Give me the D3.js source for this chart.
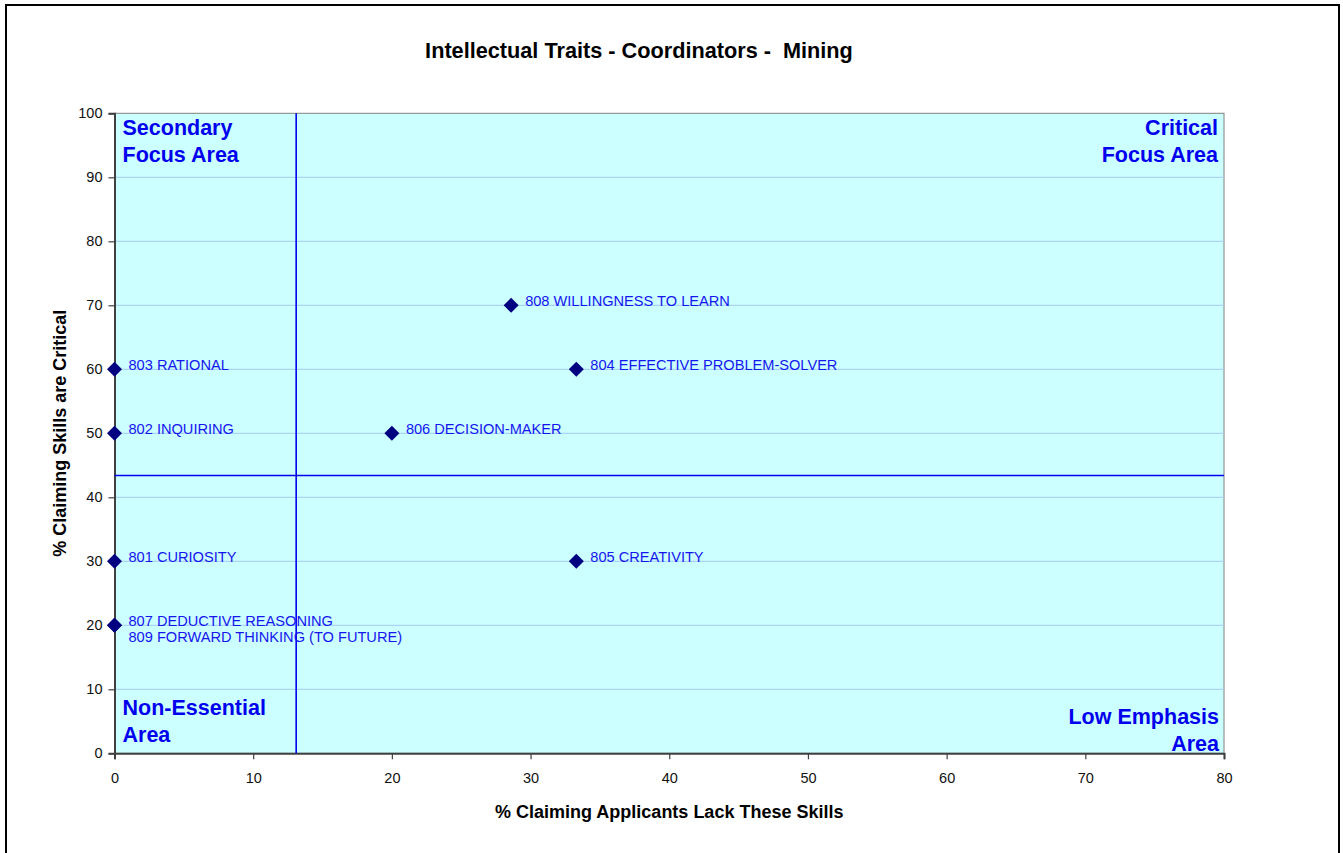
<!DOCTYPE html>
<html>
<head>
<meta charset="utf-8">
<script src="https://cdn.jsdelivr.net/npm/d3@7"></script>
<style>
  html, body { margin: 0; padding: 0; background: #fff; }
  svg { display: block; }
  text { font-family: Arial, "Liberation Sans", sans-serif; white-space: pre; }
</style>
</head>
<body>
<svg id="chart" width="1343" height="853"></svg>
<script>
// ---- data ----
const labels = ["801 CURIOSITY", "802 INQUIRING", "803 RATIONAL", "804 EFFECTIVE PROBLEM-SOLVER",
                "805 CREATIVITY", "806 DECISION-MAKER", "807 DEDUCTIVE REASONING",
                "808 WILLINGNESS TO LEARN", "809 FORWARD THINKING (TO FUTURE)"];
const lackValues = [0, 0, 0, 33.3, 33.3, 20, 0, 28.6, 0];
const criticalValues = [30, 50, 60, 60, 30, 50, 20, 70, 20];
const xTicks = [0, 10, 20, 30, 40, 50, 60, 70, 80];
const yTicks = [0, 10, 20, 30, 40, 50, 60, 70, 80, 90, 100];
const dividerX = 13.1;
const dividerY = 43.4;
const title = "Intellectual Traits - Coordinators -  Mining";
const xTitle = "% Claiming Applicants Lack These Skills";
const yTitle = "% Claiming Skills are Critical";

// ---- layout ----
const svg = d3.select("#chart");
const plot = { left: 114.5, right: 1224, top: 113.3, bottom: 753.3 };
const x = d3.scaleLinear().domain([0, 80]).range([plot.left, plot.right]);
const y = d3.scaleLinear().domain([0, 100]).range([plot.bottom, plot.top]);

// outer border
svg.append("rect").attr("x", 6).attr("y", 5).attr("width", 1333).attr("height", 860)
  .attr("fill", "none").attr("stroke", "#000").attr("stroke-width", 2);

// plot background
svg.append("rect").attr("x", plot.left).attr("y", plot.top)
  .attr("width", plot.right - plot.left).attr("height", plot.bottom - plot.top)
  .attr("fill", "#CCFFFF").attr("stroke", "#808080").attr("stroke-width", 1);

// gridlines
svg.append("g").selectAll("line").data(yTicks.filter(d => d > 0 && d < 100)).join("line")
  .attr("x1", plot.left).attr("x2", plot.right)
  .attr("y1", d => y(d)).attr("y2", d => y(d))
  .attr("stroke", "#A6CAF0").attr("stroke-width", 1);

// axes
const xAxis = svg.append("g").attr("transform", `translate(0,${plot.bottom})`)
  .call(d3.axisBottom(x).tickValues(xTicks).tickSize(6).tickPadding(13).tickFormat(d3.format("d")));
const yAxis = svg.append("g").attr("transform", `translate(${plot.left},0)`)
  .call(d3.axisLeft(y).tickValues(yTicks).tickSize(6).tickPadding(6).tickFormat(d3.format("d")));
[xAxis, yAxis].forEach(a => {
  a.select(".domain").attr("stroke", "#404040").attr("stroke-width", 2);
  a.selectAll(".tick line").attr("stroke", "#404040").attr("stroke-width", 1.2);
  a.selectAll(".tick text").attr("font-size", 14.5).attr("fill", "#111")
    .attr("font-family", "Arial, 'Liberation Sans', sans-serif");
});

// divider lines
svg.append("line").attr("x1", x(dividerX)).attr("x2", x(dividerX))
  .attr("y1", plot.top).attr("y2", plot.bottom)
  .attr("stroke", "#0000EE").attr("stroke-width", 1.6);
svg.append("line").attr("x1", plot.left).attr("x2", plot.right)
  .attr("y1", y(dividerY)).attr("y2", y(dividerY))
  .attr("stroke", "#0000EE").attr("stroke-width", 1.6);

// quadrant labels
const qColor = "#0000EE";
function qLabel(lines, xx, yy, anchor) {
  const t = svg.append("text").attr("x", xx).attr("y", yy)
    .attr("text-anchor", anchor).attr("font-size", 21.5).attr("font-weight", "bold").attr("fill", qColor);
  lines.forEach((l, i) => t.append("tspan").attr("x", xx).attr("dy", i === 0 ? 0 : 26.7).text(l));
}
qLabel(["Secondary", "Focus Area"], plot.left + 8, plot.top + 21.7, "start");
qLabel(["Critical", "Focus Area"], plot.right - 6, plot.top + 21.7, "end");
qLabel(["Non-Essential", "Area"], plot.left + 8, plot.bottom - 38.3, "start");
qLabel(["Low Emphasis", "Area"], plot.right - 5, plot.bottom - 29.3, "end");

// points
const pts = labels.map((l, i) => ({ label: l, x: lackValues[i], y: criticalValues[i] }));
pts.forEach((p, i) => {
  p.stack = pts.slice(0, i).filter(q => q.x === p.x && q.y === p.y).length;
});
svg.append("g").selectAll("path").data(pts).join("path")
  .attr("d", d3.symbol().type(d3.symbolSquare).size(112))
  .attr("transform", d => `translate(${x(d.x)},${y(d.y)}) rotate(45)`)
  .attr("fill", "#000080");

svg.append("g").selectAll("text").data(pts).join("text")
  .attr("x", d => x(d.x) + 14)
  .attr("y", d => y(d.y) + 1 + d.stack * 16)
  .attr("font-size", 14.6).attr("fill", "#1515F0")
  .text(d => d.label);

// titles
svg.append("text").attr("x", 639).attr("y", 58).attr("text-anchor", "middle")
  .attr("font-size", 21.7).attr("font-weight", "bold").attr("fill", "#000").text(title);
svg.append("text").attr("x", (plot.left + plot.right) / 2).attr("y", 818).attr("text-anchor", "middle")
  .attr("font-size", 18).attr("font-weight", "bold").attr("fill", "#000").text(xTitle);
svg.append("text").attr("transform", `translate(66,${(plot.top + plot.bottom) / 2}) rotate(-90)`)
  .attr("text-anchor", "middle")
  .attr("font-size", 18).attr("font-weight", "bold").attr("fill", "#000").text(yTitle);
</script>
</body>
</html>
